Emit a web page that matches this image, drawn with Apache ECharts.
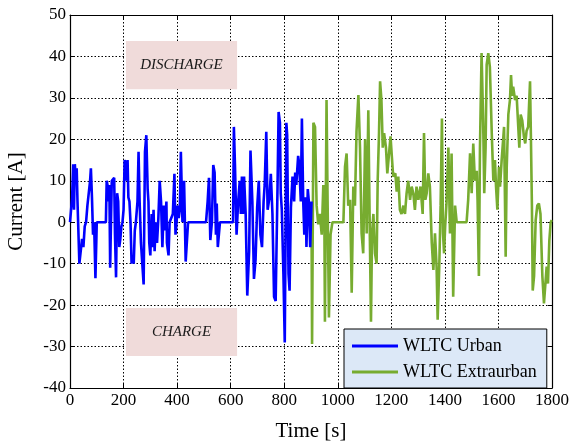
<!DOCTYPE html>
<html>
<head>
<meta charset="utf-8">
<script src="https://cdn.jsdelivr.net/npm/echarts@6/dist/echarts.min.js"></script>
<style>
  html, body { margin: 0; padding: 0; background: #ffffff; }
  #chart { width: 572px; height: 443px; }
</style>
</head>
<body>
<div id="chart"></div>
<script>
// Battery current over the WLTC drive cycle
const seriesNames = ['WLTC Urban', 'WLTC Extraurban'];

const urbanTime = [0,5,8,12,15,18,22,25,28,30,35,40,45,50,55,60,65,70,75,78,82,86,90,95,100,134,137,140,143,147,150,153,156,160,163,165,168,172,176,180,184,188,192,196,200,204,208,212,215,218,222,226,230,235,238,242,246,252,256,260,265,270,275,280,285,290,293,296,300,305,308,312,316,320,325,330,335,340,345,350,355,360,362,368,372,378,384,390,394,398,402,406,410,414,420,426,432,437,441,508,512,514,519,524,530,535,540,545,548,552,560,600,605,609,612,616,622,628,634,638,642,646,650,656,662,669,674,681,687,693,699,705,711,717,723,727,733,738,745,750,756,762,768,775,779,784,787,791,797,802,808,811,816,820,825,831,837,841,845,852,856,862,866,871,875,880,883,888,892,897,902];
const urbanCurrent = [0,0,6,14,3,14,10,13,5,5,-10,-10,-4,-6,-1,0,4,4,10,13,6,-3,0,-13.5,0,0,10,9,5,9,-11,0,10,10,10,10.7,-3,-13.3,7,5,-6,-4,-1,0,3,15,14,10,15,6,5,0,-10,-8,-10,-2,0,5,17,5,-5,-10,-15,17,21,8,5,-5,-8,2,-6,3,-7,0,-5,1,10,5,-6,4,-2,5,-5,-8,0,0,2,11.7,-3,0,4,1,3,17,0,10,-9.5,-9.5,0,0,0,5,10.7,-4.3,0,13.8,12,-3,4.5,-6,0,0,0,0,23,14,-3,5,10,2,11,2,11,2,-17.7,-7,17.3,5,-13.7,-9,3.6,10,-3,-6,5,9,21.8,3,6,11.7,2,-18,-19,8.5,26.6,24,7,3,-12.5,-29,24,21,-12.5,-16.5,3.6,11,5,12,9,16,14,5,25,5,-3,6,-6,8,5,-6,5,2];

const extraTime = [902,904,909,915,921,927,933,940,946,950,952,958,962,967,973,980,1021,1027,1033,1039,1046,1052,1058,1064,1070,1077,1083,1089,1095,1102,1108,1114,1120,1124,1128,1133,1139,1145,1149,1154,1158,1163,1168,1173,1180,1185,1192,1197,1202,1207,1215,1220,1226,1232,1238,1245,1251,1257,1263,1270,1276,1282,1288,1294,1301,1309,1317,1322,1327,1332,1338,1344,1351,1357,1363,1369,1373,1379,1384,1389,1393,1397,1401,1406,1413,1419,1425,1431,1438,1444,1481,1487,1494,1500,1506,1512,1519,1522,1527,1531,1537,1543,1547,1552,1556,1562,1568,1575,1581,1587,1591,1596,1602,1606,1612,1621,1627,1631,1637,1643,1647,1651,1655,1662,1668,1674,1678,1683,1689,1695,1700,1705,1711,1718,1721,1725,1728,1733,1739,1745,1751,1757,1764,1770,1775,1780,1785,1790,1795,1799];
const extraCurrent = [0,-29.4,24,23,4,-0.5,2,-3,9,0,-24,29.5,5,-23,-3,0,0,13.4,16.6,4,5.4,-17,8.6,4,22,30.7,18,-2.7,-7.5,20,-2.7,27,-4.5,-24,-2.7,2,-7.5,-10,10,21.5,34,29.5,18,21.5,18,11.8,11.8,20.7,15.8,11,11.8,7.4,11,3,2,4,2,7,10,5.4,8.6,7,3,8.6,5.4,8.6,2,21.5,5.4,7,11.8,8.6,-5,-11.5,-2.7,-10.7,-23.5,-10.7,4,25,-2.7,-7.5,-1,4.5,18,-2.7,16.6,-18,4,0,0,5.4,16.6,7,19,10,12.4,5.4,-13,18,40.8,24,7,18,38,40.8,37.5,21.5,10,15,8.6,3,13.4,8.6,15,23,-8.3,13.4,26,29.5,35.5,30.5,32.7,29.5,30.5,23,18,26,24.5,20.7,19,22,23,34,21.5,4,-16.5,-13,0.5,4,4.5,2,-13,-19.6,-19.6,-10.7,-14.8,-4.5,0,0.5];

// annotation regions: [x0, x1, y0, y1, label]
const noteRegions = [
  [209, 624, 32.1, 43.7, 'DISCHARGE'],
  [209, 624, -32.3, -20.7, 'CHARGE']
];

const xTicks = { min: 0, max: 1800, interval: 200 };
const yTicks = { min: -40, max: 50, interval: 10 };

const pairs = (xs, ys) => xs.map((x, i) => [x, ys[i]]);
const serifFont = '"Liberation Serif", "DejaVu Serif", serif';
const plainNumber = v => String(v);

const chart = echarts.init(document.getElementById('chart'), null, { renderer: 'canvas' });

const mirrorAxis = {
  axisLine: { show: true, onZero: false, lineStyle: { color: '#000', width: 1.2 } },
  axisTick: { show: true, inside: true, length: 4, lineStyle: { color: '#000' } },
  axisLabel: { show: false },
  splitLine: { show: false }
};

chart.setOption({
  animation: false,
  backgroundColor: '#ffffff',
  grid: { left: 70, top: 15, width: 482, height: 373, containLabel: false, outerBoundsMode: 'none' },
  xAxis: [
    {
      type: 'value', min: xTicks.min, max: xTicks.max, interval: xTicks.interval,
      name: 'Time [s]', nameLocation: 'middle', nameGap: 33,
      nameTextStyle: { fontFamily: serifFont, fontSize: 21, color: '#000' },
      axisLine: { show: true, onZero: false, lineStyle: { color: '#000', width: 1.2 } },
      axisTick: { show: true, inside: true, length: 4, lineStyle: { color: '#000' } },
      axisLabel: { fontFamily: serifFont, fontSize: 17, color: '#000', margin: 4, formatter: plainNumber },
      splitLine: { show: true, lineStyle: { color: '#000', type: [1.5, 2], width: 1 } }
    },
    Object.assign({ type: 'value', position: 'top', min: xTicks.min, max: xTicks.max, interval: xTicks.interval }, mirrorAxis)
  ],
  yAxis: [
    {
      type: 'value', min: yTicks.min, max: yTicks.max, interval: yTicks.interval,
      name: 'Current [A]', nameLocation: 'middle', nameGap: 43, nameRotate: 90,
      nameTextStyle: { fontFamily: serifFont, fontSize: 21, color: '#000' },
      axisLine: { show: true, onZero: false, lineStyle: { color: '#000', width: 1.2 } },
      axisTick: { show: true, inside: true, length: 4, lineStyle: { color: '#000' } },
      axisLabel: { fontFamily: serifFont, fontSize: 17, color: '#000', margin: 4, formatter: plainNumber },
      splitLine: { show: true, lineStyle: { color: '#000', type: [1.5, 2], width: 1 } }
    },
    Object.assign({ type: 'value', position: 'right', min: yTicks.min, max: yTicks.max, interval: yTicks.interval }, mirrorAxis)
  ],
  legend: {
    orient: 'vertical',
    left: 344, top: 329,
    width: 205,
    padding: [8, 10, 7, 8],
    itemGap: 8,
    itemWidth: 46, itemHeight: 3,
    icon: 'rect',
    backgroundColor: '#dce8f7',
    borderColor: '#000', borderWidth: 1,
    textStyle: { fontFamily: serifFont, fontSize: 18, color: '#000', lineHeight: 17 },
    data: seriesNames
  },
  series: [
    {
      name: seriesNames[0], type: 'line', symbol: 'none',
      data: pairs(urbanTime, urbanCurrent),
      lineStyle: { color: '#0000ff', width: 2.6 },
      itemStyle: { color: '#0000ff' },
      z: 3,
      markArea: {
        silent: true,
        itemStyle: { color: '#f0dbda' },
        label: {
          show: true, position: 'inside', fontFamily: serifFont, fontStyle: 'italic',
          fontSize: 15, color: '#1a1a1a'
        },
        data: noteRegions.map(r => [
          { xAxis: r[0], yAxis: r[2], name: r[4] },
          { xAxis: r[1], yAxis: r[3] }
        ])
      }
    },
    {
      name: seriesNames[1], type: 'line', symbol: 'none',
      data: pairs(extraTime, extraCurrent),
      lineStyle: { color: '#77ac30', width: 2.6 },
      itemStyle: { color: '#77ac30' },
      z: 2
    }
  ]
});
</script>
</body>
</html>
